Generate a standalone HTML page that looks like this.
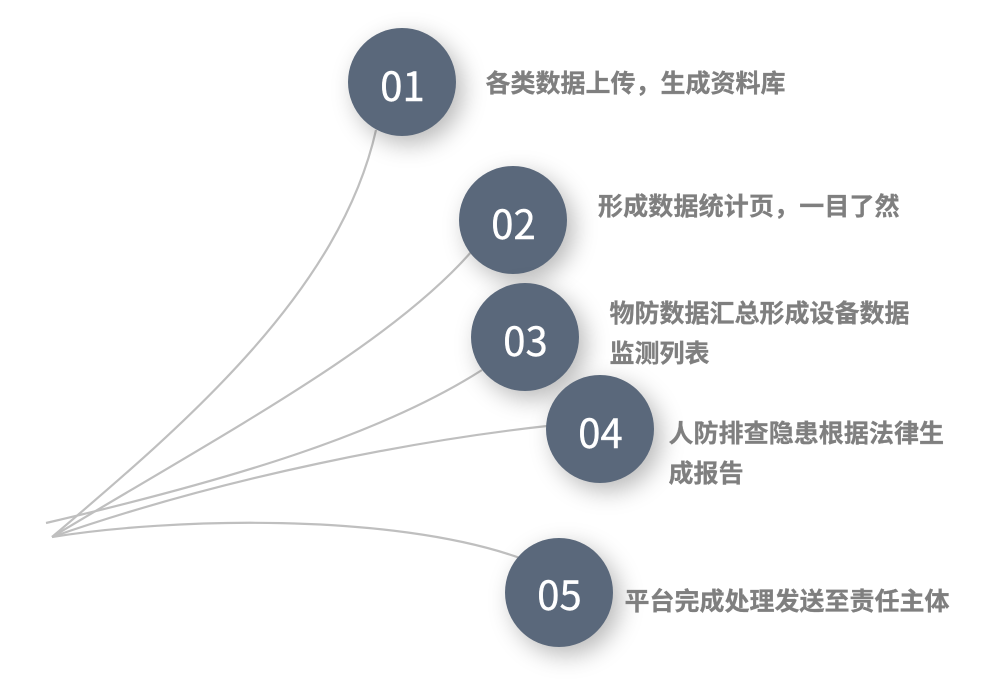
<!DOCTYPE html>
<html lang="zh">
<head>
<meta charset="utf-8">
<style>
html,body{margin:0;padding:0;background:#fff;}
#c{position:relative;width:983px;height:690px;overflow:hidden;background:#fff;font-family:"Liberation Sans","Noto Sans CJK SC",sans-serif;}
svg{position:absolute;left:0;top:0;}
.n{position:absolute;width:108px;height:108px;border-radius:50%;background:#5a687b;box-shadow:7px 8px 24px rgba(0,0,0,.28);color:#fff;font-family:"Noto Sans CJK SC",sans-serif;font-size:40px;line-height:112px;text-align:center;text-indent:1px;-webkit-text-stroke:.4px #fff;}
.t{position:absolute;color:#7f7f7f;font-family:"Noto Sans CJK SC",sans-serif;font-weight:700;font-size:25px;line-height:40px;white-space:nowrap;-webkit-text-stroke:.3px #7f7f7f;}
</style>
</head>
<body>
<div id="c">
<svg width="983" height="690" viewBox="0 0 983 690" fill="none" stroke="#bfbfbf" stroke-width="2.2">
<path d="M52 537C190 420 340 290 376 130"/>
<path d="M52 537C230 430 390 345 472 251"/>
<path d="M46 523C230 480 380 435 482 370"/>
<path d="M52 537C230 475 420 440 547 426"/>
<path d="M52 537C170 518 390 512 520 558"/>
</svg>
<div class="n" style="left:348px;top:28px">01</div>
<div class="n" style="left:459px;top:166px">02</div>
<div class="n" style="left:471px;top:283px">03</div>
<div class="n" style="left:546px;top:375px">04</div>
<div class="n" style="left:505px;top:538px;height:109px;line-height:111px">05</div>
<div class="t" style="left:485.5px;top:62px">各类数据上传，生成资料库</div>
<div class="t" style="left:598px;top:185px;letter-spacing:.15px">形成数据统计页，一目了然</div>
<div class="t" style="left:609.5px;top:292px">物防数据汇总形成设备数据<br>监测列表</div>
<div class="t" style="left:668.5px;top:412px;letter-spacing:.05px">人防排查隐患根据法律生<br>成报告</div>
<div class="t" style="left:624.5px;top:580px">平台完成处理发送至责任主体</div>
</div>
</body>
</html>
